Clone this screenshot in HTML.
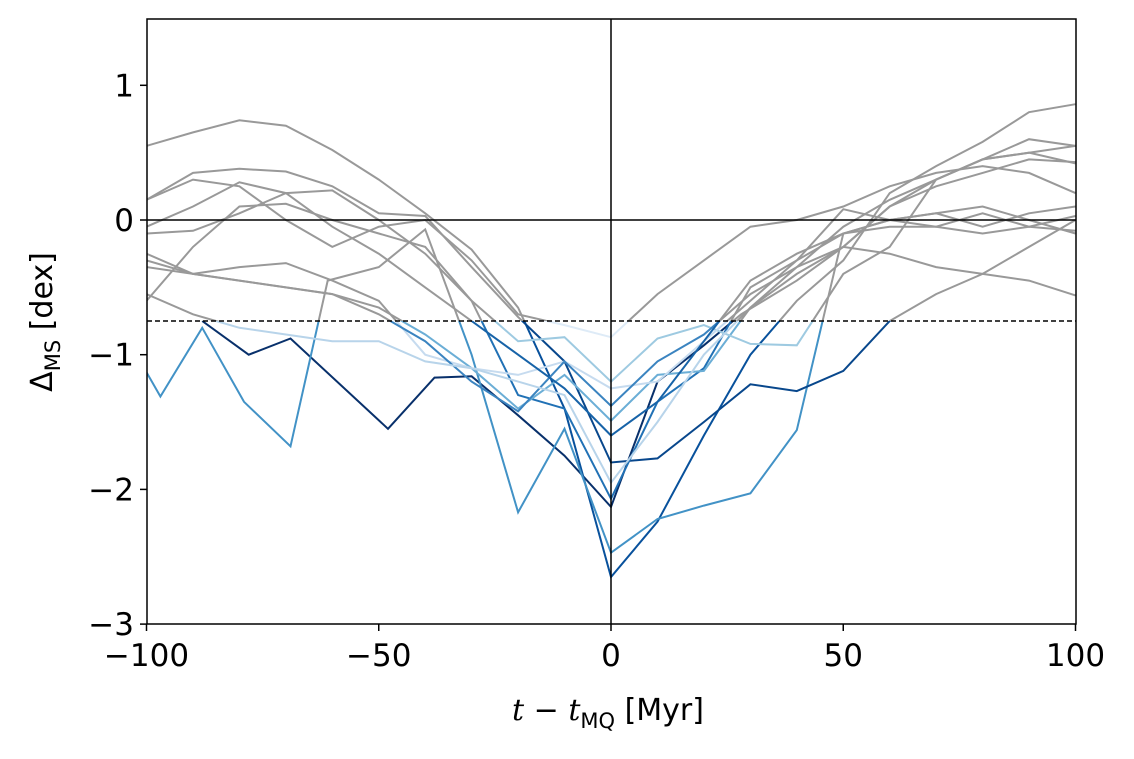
<!DOCTYPE html>
<html><head><meta charset="utf-8"><style>
body{margin:0;background:#fff;width:1134px;height:754px;overflow:hidden}
text{font-family:"DejaVu Sans","Liberation Sans",sans-serif;fill:#000}
</style></head><body>
<svg id="chart" width="1134" height="754" viewBox="0 0 1134 754" xmlns="http://www.w3.org/2000/svg">
<defs>
<clipPath id="plotClip"><rect x="147" y="19" width="929" height="605"/></clipPath>
<clipPath id="aboveClip"><rect x="147" y="19" width="929" height="302"/></clipPath>
<clipPath id="belowClip"><rect x="147" y="321" width="929" height="303"/></clipPath>
</defs>
<g id="marks"></g>
<g id="axes"></g>
</svg>
<script>
const xTicks=[-100,-50,0,50,100];
const yTicks=[1,0,-1,-2,-3];
const threshold=-0.75;
const seriesT=[
 [-88,-78,-69,-48,-38,-30,-20,-10,0,10,20,28,40,50,60,70,80,90,100],
 [-100,-90,-80,-70,-60,-50,-40,-30,-20,-10,0,10,20,30,40,50,60,70,80,90,100],
 [-100,-97,-88,-79,-69,-61,-50,-40,-30,-20,-10,0,10,20,30,40,50,60,70,80,90,100],
 [-100,-90,-80,-70,-60,-50,-40,-30,-20,-10,0,10,20,30,40,50,60,70,80,90,100],
 [-100,-90,-80,-70,-60,-50,-40,-30,-20,-10,0,10,20,30,40,50,60,70,80,90,100],
 [-100,-90,-80,-70,-60,-50,-40,-30,-20,-10,0,10,20,30,40,50,60,70,80,90,100],
 [-100,-90,-80,-70,-60,-50,-40,-30,-20,-10,0,10,20,30,40,50,60,70,80,90,100],
 [-100,-90,-80,-70,-60,-50,-40,-30,-20,-10,0,10,20,30,40,50,60,70,80,90,100],
 [-100,-90,-80,-70,-60,-50,-40,-30,-20,-10,0,10,20,30,40,50,60,70,80,90,100],
 [-100,-90,-80,-70,-60,-50,-40,-30,-20,-10,0,10,20,30,40,50,60,70,80,90,100],
 [-100,-90,-80,-70,-60,-50,-40,-30,-20,-10,0,10,20,30,40,50,60,70,80,90,100],
 [-100,-90,-80,-70,-60,-50,-40,-30,-20,-10,0,10,20,30,40,50,60,70,80,90,100]
];
const seriesV=[
 [-0.75,-1.0,-0.88,-1.55,-1.17,-1.16,-1.45,-1.75,-2.13,-1.2,-0.93,-0.7,-0.45,-0.2,0.1,0.3,0.45,0.5,0.55],
 [0.55,0.65,0.74,0.7,0.52,0.3,0.05,-0.22,-0.65,-1.4,-2.65,-2.24,-1.6,-1.0,-0.6,-0.3,0.2,0.4,0.58,0.8,0.86],
 [-1.13,-1.31,-0.8,-1.35,-1.68,-0.45,-0.35,-0.07,-1.0,-2.17,-1.55,-2.47,-2.22,-2.12,-2.03,-1.56,-0.1,0.0,0.05,0.1,0.0,-0.1],
 [0.15,0.35,0.38,0.36,0.25,0.05,0.03,-0.35,-0.72,-1.05,-1.8,-1.77,-1.5,-1.22,-1.27,-1.12,-0.75,-0.55,-0.4,-0.2,0.0],
 [-0.1,-0.08,0.05,0.2,0.22,0.0,-0.25,-0.6,-1.3,-1.4,-2.07,-1.35,-1.1,-0.5,-0.3,0.08,0.0,-0.05,0.05,-0.05,0.03],
 [-0.25,-0.4,-0.45,-0.5,-0.55,-0.65,-0.85,-1.1,-1.4,-1.15,-1.49,-1.15,-1.12,-0.65,-0.4,-0.2,0.1,0.25,0.35,0.45,0.43],
 [-0.6,-0.2,0.1,0.12,0.0,-0.1,-0.2,-0.6,-0.9,-0.87,-1.2,-0.88,-0.78,-0.92,-0.93,-0.4,-0.2,0.3,0.45,0.6,0.55],
 [-0.35,-0.4,-0.35,-0.32,-0.45,-0.6,-1.0,-1.1,-1.15,-1.05,-1.25,-1.2,-0.9,-0.6,-0.3,-0.1,0.0,0.05,-0.05,0.05,0.1],
 [-0.3,-0.4,-0.45,-0.5,-0.55,-0.7,-0.9,-1.2,-1.42,-1.05,-1.38,-1.05,-0.85,-0.55,-0.35,-0.05,0.15,0.3,0.45,0.5,0.42],
 [0.15,0.3,0.25,0.0,-0.2,-0.05,0.0,-0.3,-0.7,-0.78,-0.87,-0.55,-0.3,-0.05,0.0,0.1,0.25,0.35,0.4,0.35,0.2],
 [-0.05,0.1,0.28,0.2,-0.05,-0.25,-0.5,-0.75,-1.0,-1.25,-1.6,-1.35,-0.9,-0.45,-0.25,-0.1,-0.05,-0.05,-0.1,-0.05,-0.08],
 [-0.55,-0.7,-0.8,-0.85,-0.9,-0.9,-1.05,-1.1,-1.2,-1.3,-1.95,-1.5,-1.0,-0.65,-0.35,-0.2,-0.25,-0.35,-0.4,-0.45,-0.56]
];
const seriesColor=["#08306b","#08519c","#4292c6","#08478c","#2171b5","#6baed6","#9ecae1","#c6dbef","#3b84c0","#deebf7","#1763a8","#b8d4ea"];
const X=t=>611+t*4.645, Y=v=>220-v*134.7;
const NS="http://www.w3.org/2000/svg";
const marks=document.getElementById('marks'), axes=document.getElementById('axes');
function mk(tag,attrs,parent){const e=document.createElementNS(NS,tag);for(const k in attrs)e.setAttribute(k,attrs[k]);parent.appendChild(e);return e;}
seriesV.forEach((vals,i)=>{
 const pts=vals.map((v,j)=>X(seriesT[i][j]).toFixed(1)+','+Y(v).toFixed(1)).join(' ');
 const g=mk('g',{'clip-path':'url(#plotClip)'},marks);
 const a=mk('polyline',{points:pts,fill:'none',stroke:'#999','stroke-width':2,'clip-path':'url(#aboveClip)'},g);
 
 
 const b=mk('polyline',{points:pts,fill:'none',stroke:seriesColor[i],'stroke-width':2,'clip-path':'url(#belowClip)'},g);
 
 
});
let l=mk('line',{x1:147,x2:1076,y1:Y(0),y2:Y(0),stroke:'#000','stroke-width':1.5},axes);

l=mk('line',{x1:X(0),x2:X(0),y1:19,y2:624,stroke:'#000','stroke-width':1.5},axes);

l=mk('line',{x1:147,x2:1076,y1:Y(threshold),y2:Y(threshold),stroke:'#000','stroke-width':1.5,'stroke-dasharray':'5,3'},axes);

l=mk('rect',{x:147,y:19,width:929,height:605,fill:'none',stroke:'#000','stroke-width':1.5},axes);

xTicks.forEach(t=>{
 mk('line',{x1:X(t),x2:X(t),y1:624,y2:631,stroke:'#000','stroke-width':1.5},axes);
 const tx=mk('text',{x:X(t),y:666,'text-anchor':'middle','font-size':31},axes);
 tx.textContent=(t<0?'\u2212'+(-t):t);
 
});
yTicks.forEach(v=>{
 mk('line',{x1:140,x2:147,y1:Y(v),y2:Y(v),stroke:'#000','stroke-width':1.5},axes);
 const tx=mk('text',{x:134,y:Y(v)+11,'text-anchor':'end','font-size':31},axes);
 tx.textContent=(v<0?'\u2212'+(-v):v);
 
});
</script>
<svg style="position:absolute;left:0;top:0" width="1134" height="754" xmlns="http://www.w3.org/2000/svg">
<text x="608" y="720" text-anchor="middle" font-size="30"><tspan font-style="italic" font-family="DejaVu Serif,serif">t</tspan> − <tspan font-style="italic" font-family="DejaVu Serif,serif">t</tspan><tspan font-size="21" dy="8">MQ</tspan><tspan dy="-8">  [Myr]</tspan></text>
<text transform="translate(52,322) rotate(-90)" text-anchor="middle" font-size="30">Δ<tspan font-size="21" dy="8">MS</tspan><tspan dy="-8">  [dex]</tspan></text>
</svg>
</body></html>
